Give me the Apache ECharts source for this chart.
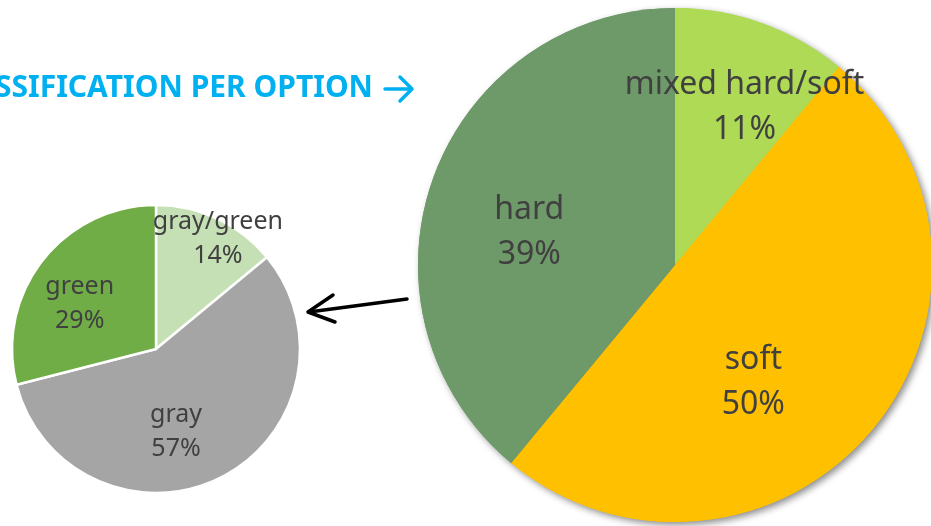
<!DOCTYPE html>
<html>
<head>
<meta charset="utf-8">
<title>Classification per option</title>
<script src="https://cdn.jsdelivr.net/npm/echarts@6/dist/echarts.min.js"></script>
<style>
  html, body { margin: 0; padding: 0; background: #ffffff; }
  #chart { width: 931px; height: 526px; }
</style>
</head>
<body>
<div id="chart"></div>
<script>
// Colour breakdown (small pie)
const colourNames = ['gray/green', 'gray', 'green'];
const colourValues = [14, 57, 29];

// Texture breakdown (large pie)
const textureNames = ['mixed hard/soft', 'soft', 'hard'];
const textureValues = [11, 50, 39];

const headline = 'CLASSIFICATION PER OPTION';

// Styling
const colourPalette = ['#C5E0B4', '#A5A5A5', '#70AD47'];
const texturePalette = ['#AFDA55', '#FFC000', '#6E9A69'];
const colourLabelNudge = [[30, -42], [-14, 16], [-17, 1]];
const textureLabelNudge = [[25, -34], [-23, 34], [-22, 12]];
const labelInk = '#404040';

function toData(names, values, palette) {
  return names.map((n, i) => ({ name: n, value: values[i], itemStyle: { color: palette[i] } }));
}

const chart = echarts.init(document.getElementById('chart'), null, { renderer: 'canvas' });

chart.setOption({
  backgroundColor: '#ffffff',
  animation: false,
  series: [
    {
      // small pie: gray / green split
      type: 'pie',
      center: [156, 349],
      radius: 144,
      startAngle: 90,
      clockwise: true,
      silent: true,
      data: toData(colourNames, colourValues, colourPalette),
      itemStyle: { borderColor: '#ffffff', borderWidth: 2.5 },
      label: {
        show: true,
        position: 'inside',
        formatter: '{b}\n{d}%',
        color: labelInk,
        fontFamily: 'Noto Sans',
        fontSize: 25,
        lineHeight: 34,
        overflow: 'none'
      },
      labelLine: { show: false },
      labelLayout: p => ({ dx: colourLabelNudge[p.dataIndex][0], dy: colourLabelNudge[p.dataIndex][1] })
    },
    {
      // drop shadow under the large pie
      type: 'pie',
      z: 1,
      center: [675, 265],
      radius: 257,
      startAngle: 90,
      clockwise: true,
      silent: true,
      data: toData(textureNames, textureValues, texturePalette),
      itemStyle: {
        shadowBlur: 7,
        shadowColor: 'rgba(0,0,0,0.45)',
        shadowOffsetX: 3,
        shadowOffsetY: 3
      },
      label: { show: false },
      labelLine: { show: false }
    },
    {
      // large pie: hard / soft split
      type: 'pie',
      z: 2,
      center: [675, 265],
      radius: 257,
      startAngle: 90,
      clockwise: true,
      silent: true,
      data: toData(textureNames, textureValues, texturePalette),
      itemStyle: { borderWidth: 0 },
      label: {
        show: true,
        position: 'inside',
        formatter: '{b}\n{d}%',
        color: labelInk,
        fontFamily: 'Noto Sans',
        fontSize: 32,
        lineHeight: 45,
        overflow: 'none'
      },
      labelLine: { show: false },
      labelLayout: p => ({ dx: textureLabelNudge[p.dataIndex][0], dy: textureLabelNudge[p.dataIndex][1] })
    }
  ],
  graphic: [
    {
      type: 'text',
      x: 373,
      y: 88,
      z: 10,
      style: {
        text: headline,
        align: 'right',
        verticalAlign: 'middle',
        fill: '#00B0F0',
        font: 'bold 30px "Noto Sans"'
      }
    },
    {
      // arrow after the headline
      type: 'group',
      z: 10,
      children: [
        { type: 'line', shape: { x1: 385, y1: 89, x2: 410, y2: 89 },
          style: { stroke: '#00B0F0', lineWidth: 3.5, lineCap: 'round' } },
        { type: 'polyline', shape: { points: [[400, 77], [412, 89], [400, 101]] },
          style: { stroke: '#00B0F0', lineWidth: 3.5, lineCap: 'round', lineJoin: 'round', fill: null } }
      ]
    },
    {
      // pointer from the large pie to the small one
      type: 'group',
      z: 10,
      children: [
        { type: 'line', shape: { x1: 407, y1: 299, x2: 309, y2: 312 },
          style: { stroke: '#000000', lineWidth: 3.5, lineCap: 'round' } },
        { type: 'polyline', shape: { points: [[333, 295], [308, 312], [335, 322]] },
          style: { stroke: '#000000', lineWidth: 3.5, lineCap: 'round', lineJoin: 'round', fill: null } }
      ]
    }
  ]
});
</script>
</body>
</html>
